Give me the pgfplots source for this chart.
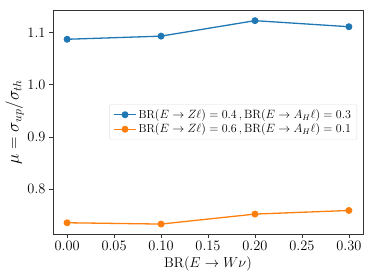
\documentclass[border=0pt]{standalone}
\usepackage{pgfplots}
\pgfplotsset{compat=1.18}
\definecolor{mblue}{HTML}{1F77B4}
\definecolor{morange}{HTML}{FF7F0E}
\definecolor{framegray}{HTML}{333333}
\begin{document}
\begin{tikzpicture}
\path[use as bounding box] (-53pt,-46pt) rectangle (321pt,234pt);
\begin{axis}[
  at={(0,0)}, anchor=south west,
  scale only axis, width=310pt, height=224pt,
  xmin=-0.015, xmax=0.315, ymin=0.7145, ymax=1.143,
  xtick={0,0.05,0.1,0.15,0.2,0.25,0.3},
  ytick={0.8,0.9,1.0,1.1},
  xticklabel style={/pgf/number format/.cd,fixed,fixed zerofill,precision=2},
  yticklabel style={/pgf/number format/.cd,fixed,fixed zerofill,precision=1},
  tick label style={font=\fontsize{13.5}{15}\selectfont},
  axis line style={framegray, line width=0.8pt},
  tick style={framegray, line width=0.8pt},
  tick align=outside, major tick length=4pt,
  xtick pos=bottom, ytick pos=left,
  xlabel={BR$(E\to W\nu)$}, xlabel style={font=\fontsize{14}{16}\selectfont, yshift=1pt},
  ylabel={$\mu=\sigma_{up}/\sigma_{th}$}, ylabel style={font=\fontsize{17}{19}\selectfont, yshift=-3pt},
  legend style={at={(0.981,0.5)}, anchor=east, draw=black!12, rounded corners=2pt,
    fill=white, font=\fontsize{11.5}{15}\selectfont, inner xsep=4pt, inner ysep=3pt},
  legend cell align=left,
  legend image code/.code={
    \draw[#1, mark repeat=2, mark phase=2] plot coordinates {(0pt,0pt) (11pt,0pt) (22pt,0pt)};},
]
\addplot[mblue, line width=1.3pt, mark=*, mark size=2.8pt] coordinates {
 (0.0,1.087) (0.1,1.093) (0.2,1.1226) (0.3,1.111)};
\addlegendentry{{BR$(E\to Z\ell)=0.4\,,\mathrm{BR}(E\to A_H\ell)=0.3$}}
\addplot[morange, line width=1.3pt, mark=*, mark size=2.8pt] coordinates {
 (0.0,0.736) (0.1,0.7335) (0.2,0.7526) (0.3,0.7595)};
\addlegendentry{{BR$(E\to Z\ell)=0.6\,,\mathrm{BR}(E\to A_H\ell)=0.1$}}
\end{axis}
\end{tikzpicture}
\end{document}
